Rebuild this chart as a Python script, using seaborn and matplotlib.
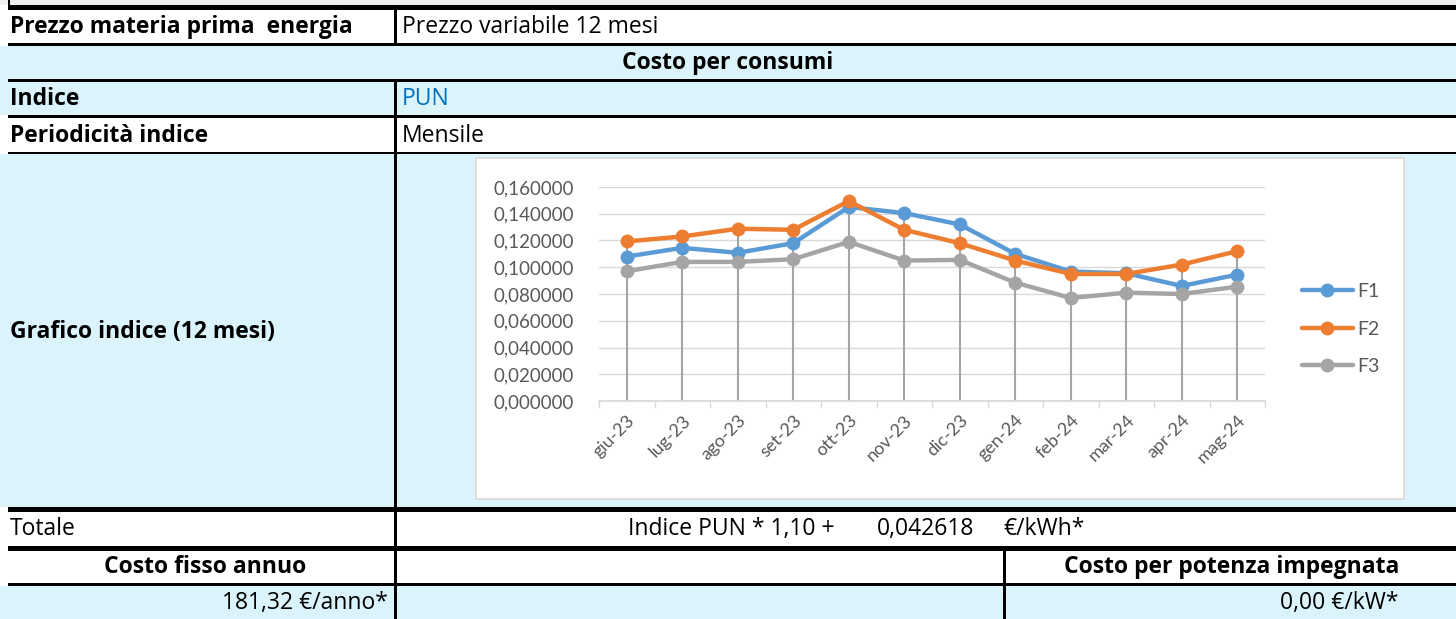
import numpy as np
import pandas as pd
import matplotlib
matplotlib.use("Agg")
import matplotlib.pyplot as plt
from matplotlib.patches import Rectangle
from matplotlib.ticker import FuncFormatter
import seaborn as sns

# ---- data ----
months = ["giu-23", "lug-23", "ago-23", "set-23", "ott-23", "nov-23",
          "dic-23", "gen-24", "feb-24", "mar-24", "apr-24", "mag-24"]
f1 = [0.1080, 0.1145, 0.1108, 0.1180, 0.1450, 0.1405,
      0.1320, 0.1100, 0.0968, 0.0955, 0.0860, 0.0945]
f2 = [0.1193, 0.1230, 0.1288, 0.1280, 0.1495, 0.1280,
      0.1180, 0.1050, 0.0950, 0.0950, 0.1020, 0.1120]
f3 = [0.0970, 0.1040, 0.1040, 0.1060, 0.1190, 0.1050,
      0.1055, 0.0885, 0.0770, 0.0810, 0.0800, 0.0855]
series_names = ["F1", "F2", "F3"]
series_colors = ["#5B9BD5", "#ED7D31", "#A5A5A5"]

y_ticks = [0.0, 0.02, 0.04, 0.06, 0.08, 0.10, 0.12, 0.14, 0.16]

W, H = 1456, 619
BLUE = "#DBF3FA"
TABLE_FONT = ["Open Sans", "DejaVu Sans"]
CHART_FONT = ["Lato", "DejaVu Sans"]

sns.set_theme(style="white")
plt.rcParams["font.family"] = CHART_FONT

fig = plt.figure(figsize=(W / 100, H / 100), dpi=100)
fig.patch.set_facecolor("white")

# ---- table drawn in pixel coordinates ----
bg = fig.add_axes([0, 0, 1, 1])
bg.set_xlim(0, W)
bg.set_ylim(H, 0)
bg.axis("off")


def box(x0, y0, x1, y1, color, z=1, **kw):
    bg.add_patch(Rectangle((x0, y0), x1 - x0, y1 - y0, facecolor=color,
                           edgecolor=kw.get("ec", "none"), lw=kw.get("lw", 0), zorder=z))


box(0, 0, W, 5, "#F0F0F0")
# fills
box(0, 46, W, 115, BLUE)
box(0, 154, W, 507, BLUE)
box(0, 586, W, H, BLUE)
# chart frame
box(476, 158, 1404, 499, "white", z=2, ec="#D9D9D9", lw=1.2)

# borders
for y0, y1 in [(5, 10), (43, 46), (79, 82), (115, 118), (152, 154),
               (507, 512), (546, 551), (583, 586)]:
    box(8, y0, W, y1, "black", z=3)
box(8, 0, 10, 10, "black", z=3)
for y0, y1 in [(10, 43), (82, 619)]:
    box(394, y0, 397, y1, "black", z=3)
box(1003, 551, 1006, 619, "black", z=3)

txt = dict(fontsize=16.5, va="center", color="black", zorder=4, family=TABLE_FONT)
bold = dict(txt, fontweight="bold")
bg.text(10, 27, "Prezzo materia prima  energia", **bold)
bg.text(402, 27, "Prezzo variabile 12 mesi", **txt)
bg.text(728, 63, "Costo per consumi", ha="center", **bold)
bg.text(10, 99, "Indice", **bold)
bg.text(402, 99, "PUN", **{**txt, "color": "#0070C0"})
bg.text(10, 136, "Periodicità indice", **bold)
bg.text(402, 136, "Mensile", **txt)
bg.text(10, 332, "Grafico indice (12 mesi)", **bold)
bg.text(10, 529, "Totale", **txt)
bg.text(628, 529, "Indice PUN * 1,10 +", **txt)
bg.text(877, 529, "0,042618", **txt)
bg.text(1003, 529, "€/kWh*", **txt)
bg.text(205, 567, "Costo fisso annuo", ha="center", **bold)
bg.text(1232, 567, "Costo per potenza impegnata", ha="center", **bold)
bg.text(388, 603, "181,32 €/anno*", ha="right", **txt)
bg.text(1398, 603, "0,00 €/kW*", ha="right", **txt)

# ---- line chart ----
x_left, x_right, y_top, y_bot = 599, 1265, 187, 401
ax = fig.add_axes([x_left / W, 1 - y_bot / H, (x_right - x_left) / W, (y_bot - y_top) / H])
ax.set_facecolor("white")
ax.set_zorder(5)

pos = np.arange(len(months))
df = pd.DataFrame({"pos": np.tile(pos, 3),
                   "value": f1 + f2 + f3,
                   "serie": np.repeat(series_names, len(months))})

# drop lines from the highest point to the axis
top = np.maximum(np.maximum(f1, f2), f3)
ax.vlines(pos, 0, top, color="#A5A5A5", lw=1.5, zorder=1)

sns.lineplot(data=df, x="pos", y="value", hue="serie", palette=series_colors,
             marker="o", markersize=10, markeredgewidth=0, linewidth=3.2,
             ax=ax, zorder=3, legend=False)

ax.set_xlim(-0.5, len(months) - 0.5)
ax.set_ylim(0, 0.16)
ax.set_yticks(y_ticks)
ax.yaxis.set_major_formatter(FuncFormatter(lambda v, _: f"{v:.6f}".replace(".", ",")))
ax.grid(axis="y", color="#D9D9D9", lw=1)
ax.grid(axis="x", visible=False)
for s in ["top", "right", "left"]:
    ax.spines[s].set_visible(False)
ax.spines["bottom"].set_color("#D9D9D9")
ax.set_xticks(pos)
ax.set_xticklabels(months, rotation=45, ha="right", rotation_mode="anchor")
ax.set_xticks(np.arange(-0.5, len(months), 1), minor=True)
ax.tick_params(axis="x", which="major", length=0, pad=8, labelsize=13, labelcolor="#595959")
ax.tick_params(axis="x", which="minor", length=5, color="#D9D9D9", bottom=True)
ax.tick_params(axis="y", length=0, pad=18, labelsize=13.5, labelcolor="#595959")
ax.set_xlabel("")
ax.set_ylabel("")

handles = [plt.Line2D([], [], color=c, lw=3.2, marker="o", markersize=10, markeredgewidth=0)
           for c in series_colors]
leg = ax.legend(handles, series_names, loc="center left", frameon=False,
                bbox_to_anchor=(1302 / W, 1 - 329 / H), bbox_transform=fig.transFigure,
                borderpad=0, borderaxespad=0, fontsize=14, labelspacing=1.05,
                handlelength=2.6, handletextpad=0.25, numpoints=1)
for t in leg.get_texts():
    t.set_color("#595959")

fig.savefig("out.png", dpi=100, facecolor="white")
